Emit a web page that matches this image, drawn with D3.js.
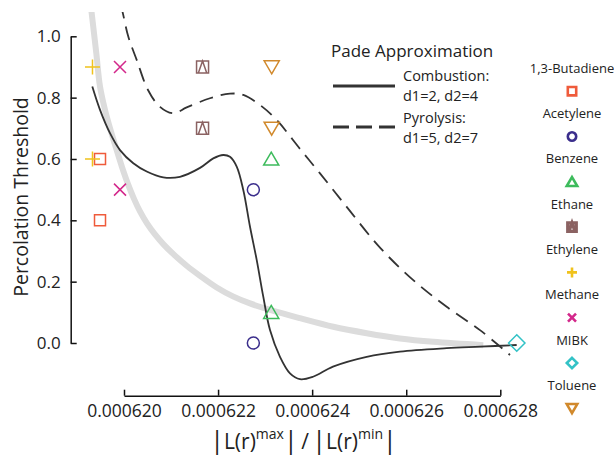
<!DOCTYPE html>
<html lang="en">
<head>
<meta charset="utf-8">
<title>Percolation threshold</title>
<script src="https://cdn.jsdelivr.net/npm/d3@7"></script>
<style>
  body { margin: 0; background: #fff; }
  svg { font-family: "Open Sans", sans-serif; }
  .tick text { fill: #222; }
</style>
</head>
<body>
<div id="chart"></div>
<script>

// species measured
var species = ["1,3-Butadiene", "Acetylene", "Benzene", "Ethane", "Ethylene", "Methane", "MIBK", "Toluene"];
var speciesRatio = [6.1949e-4, 6.2275e-4, 6.2313e-4, 6.2167e-4, 6.1933e-4, 6.19915e-4, 6.2835e-4, 6.2314e-4];
var speciesThreshold = [[0.6, 0.4], [0.5, 0.0], [0.6, 0.1], [0.9, 0.7], [0.9, 0.6], [0.9, 0.5], [0.0], [0.9, 0.7]];

// pade curves
var combRatio = [6.19326e-4, 6.1949e-4, 6.19702e-4, 6.19915e-4, 6.20198e-4, 6.20483e-4, 6.20835e-4, 6.2119e-4,
  6.21616e-4, 6.21898e-4, 6.22111e-4, 6.22253e-4, 6.22396e-4, 6.22536e-4, 6.22679e-4, 6.22821e-4, 6.22961e-4,
  6.23104e-4, 6.23316e-4, 6.23529e-4, 6.23741e-4, 6.24018e-4, 6.24443e-4, 6.2516e-4, 6.25867e-4, 6.2686e-4,
  6.27568e-4, 6.28348e-4];
var combThreshold = [0.836, 0.760, 0.684, 0.629, 0.586, 0.559, 0.540, 0.542, 0.571, 0.602, 0.613, 0.607, 0.575,
  0.499, 0.379, 0.271, 0.151, 0.042, -0.045, -0.099, -0.118, -0.110, -0.077, -0.045, -0.028, -0.017, -0.012, -0.0065];

var pyroRatio = [6.19936e-4, 6.19985e-4, 6.20091e-4, 6.2027e-4, 6.2051e-4, 6.20765e-4, 6.21048e-4, 6.21333e-4,
  6.21828e-4, 6.22253e-4, 6.22536e-4, 6.22891e-4, 6.23246e-4, 6.23741e-4, 6.24167e-4, 6.24734e-4, 6.25442e-4,
  6.2615e-4, 6.2686e-4, 6.27568e-4, 6.28206e-4];
var pyroThreshold = [1.102, 1.069, 0.999, 0.923, 0.825, 0.770, 0.749, 0.768, 0.798, 0.813, 0.809, 0.776, 0.727,
  0.633, 0.553, 0.444, 0.311, 0.205, 0.118, 0.042, -0.039];

// gray trend line
var trendRatio = [6.19288e-4, 6.1933e-4, 6.19411e-4, 6.1949e-4, 6.19596e-4, 6.19713e-4, 6.1983e-4, 6.19957e-4,
  6.20085e-4, 6.20213e-4, 6.2034e-4, 6.20489e-4, 6.20659e-4, 6.2085e-4, 6.21084e-4, 6.21339e-4, 6.21616e-4,
  6.21971e-4, 6.22317e-4, 6.22679e-4, 6.23104e-4, 6.23741e-4, 6.2445e-4, 6.2516e-4, 6.25867e-4, 6.26575e-4,
  6.27638e-4];
var trendThreshold = [1.108, 1.053, 0.945, 0.836, 0.760, 0.695, 0.636, 0.574, 0.518, 0.470, 0.429, 0.390, 0.354,
  0.320, 0.285, 0.251, 0.219, 0.181, 0.152, 0.129, 0.108, 0.081, 0.053, 0.032, 0.015, 0.004, -0.007];

var xTicks = [0.000620, 0.000622, 0.000624, 0.000626, 0.000628];
var yTicks = [0.0, 0.2, 0.4, 0.6, 0.8, 1.0];

// marker look per species
var markerStyle = {
  "1,3-Butadiene": {shape: "square", color: "#ef5b3b"},
  "Acetylene": {shape: "circle", color: "#3b2e8c"},
  "Benzene": {shape: "triUp", color: "#3dbb5c"},
  "Ethane": {shape: "sqTri", color: "#8b6262"},
  "Ethylene": {shape: "plus", color: "#f0c21c"},
  "Methane": {shape: "times", color: "#d3288b"},
  "MIBK": {shape: "diamond", color: "#33c2c6"},
  "Toluene": {shape: "triDown", color: "#d1892c"}
};

var width = 614, height = 456;

var svg = d3.select("#chart").append("svg")
  .attr("width", width)
  .attr("height", height);

var x = d3.scaleLinear().domain([0.000620, 0.000628]).range([124, 500.3]);
var y = d3.scaleLinear().domain([0, 1]).range([343, 36.3]);

// marker path, r = half size
function marker(kind, r) {
  var p = d3.path();
  if (kind == "square") {
    p.rect(-r, -r, 2 * r, 2 * r);
  } else if (kind == "circle") {
    p.moveTo(r, 0);
    p.arc(0, 0, r, 0, 2 * Math.PI);
  } else if (kind == "triUp") {
    p.moveTo(0, -r * 0.95); p.lineTo(r * 1.05, r * 0.85); p.lineTo(-r * 1.05, r * 0.85); p.closePath();
  } else if (kind == "triDown") {
    p.moveTo(0, r * 0.95); p.lineTo(r * 1.05, -r * 0.85); p.lineTo(-r * 1.05, -r * 0.85); p.closePath();
  } else if (kind == "plus") {
    p.moveTo(-r, 0); p.lineTo(r, 0); p.moveTo(0, -r); p.lineTo(0, r);
  } else if (kind == "times") {
    p.moveTo(-r, -r); p.lineTo(r, r); p.moveTo(r, -r); p.lineTo(-r, r);
  } else if (kind == "diamond") {
    p.moveTo(0, -r); p.lineTo(r, 0); p.lineTo(0, r); p.lineTo(-r, 0); p.closePath();
  } else if (kind == "sqTri") {
    p.rect(-r, -r, 2 * r, 2 * r);
    p.moveTo(0, -r); p.lineTo(r * 0.7, r); p.lineTo(-r * 0.7, r); p.closePath();
  }
  return p.toString();
}

var plotSize = {square: 5.5, circle: 6, triUp: 7.2, triDown: 7.2, plus: 7.5, times: 6, diamond: 8.2, sqTri: 6};
var legendSize = {square: 4.2, circle: 4.2, triUp: 5, triDown: 5, plus: 5, times: 4, diamond: 5.2, sqTri: 4.3};

// clip for the curves
svg.append("clipPath").attr("id", "plotclip")
  .append("rect").attr("x", 70).attr("y", 12).attr("width", 470).attr("height", 390);

var plot = svg.append("g").attr("clip-path", "url(#plotclip)");

function curve(xs, ys) {
  return d3.line()
    .x(function(d) { return x(d); })
    .y(function(d, i) { return y(ys[i]); })
    .curve(d3.curveCatmullRom.alpha(0.5))(xs);
}

plot.append("path")
  .attr("d", curve(trendRatio, trendThreshold))
  .attr("fill", "none")
  .attr("stroke", "#dcdcdc")
  .attr("stroke-width", 6);

plot.append("path")
  .attr("d", curve(combRatio, combThreshold))
  .attr("fill", "none")
  .attr("stroke", "#333")
  .attr("stroke-width", 1.8);

plot.append("path")
  .attr("d", curve(pyroRatio, pyroThreshold))
  .attr("fill", "none")
  .attr("stroke", "#333")
  .attr("stroke-width", 1.8)
  .attr("stroke-dasharray", "14,8");

// data points
var points = [];
species.forEach(function(s, i) {
  speciesThreshold[i].forEach(function(t) {
    points.push({name: s, ratio: speciesRatio[i], threshold: t});
  });
});

svg.append("g").selectAll("path")
  .data(points)
  .enter()
  .append("path")
  .attr("transform", function(d) { return "translate(" + x(d.ratio) + "," + y(d.threshold) + ")"; })
  .attr("d", function(d) { var k = markerStyle[d.name].shape; return marker(k, plotSize[k]); })
  .attr("fill", "none")
  .attr("stroke", function(d) { return markerStyle[d.name].color; })
  .attr("stroke-width", 1.5);

// axes, ticks pointing inward
var xAxis = d3.axisBottom(x)
  .tickValues(xTicks)
  .tickFormat(d3.format(".6f"))
  .tickSizeInner(-6)
  .tickSizeOuter(0)
  .tickPadding(9);

var yAxis = d3.axisLeft(y)
  .tickValues(yTicks)
  .tickFormat(d3.format(".1f"))
  .tickSizeInner(-6)
  .tickSizeOuter(0)
  .tickPadding(10);

var gx = svg.append("g")
  .attr("transform", "translate(0,395.7)")
  .call(xAxis);

var gy = svg.append("g")
  .attr("transform", "translate(70.7,0)")
  .call(yAxis);

[gx, gy].forEach(function(g) {
  g.selectAll("text").style("font-size", "17px").style("font-family", "Open Sans");
  g.selectAll("line, path").attr("stroke", "#111").attr("stroke-width", 1.5);
});
gx.selectAll("text").style("font-size", "17.5px");

// axis titles
svg.append("text")
  .attr("transform", "translate(28,197) rotate(-90)")
  .attr("text-anchor", "middle")
  .style("font-size", "19.5px")
  .attr("fill", "#222")
  .text("Percolation Threshold");

var xl = svg.append("text")
  .attr("x", 303.5)
  .attr("y", 449)
  .attr("text-anchor", "middle")
  .attr("fill", "#222")
  .style("font-size", "21px");
function bar(dy) {
  var t = xl.append("tspan").style("font-size", "25px").text("|");
  if (dy) t.attr("dy", dy);
}
bar();
xl.append("tspan").text("L(r)");
xl.append("tspan").attr("dy", -10).style("font-size", "14px").text("max");
bar(10);
xl.append("tspan").text("\u2009/\u2009");
bar();
xl.append("tspan").text("L(r)");
xl.append("tspan").attr("dy", -10).style("font-size", "14px").text("min");
bar(10);

// pade legend
var lg = svg.append("g").attr("fill", "#222");
lg.append("text").attr("x", 331).attr("y", 57).style("font-size", "17px").text("Pade Approximation");

var padeLegend = [
  {label: ["Combustion:", "d1=2, d2=4"], dash: null, ly: 86, ty: 81},
  {label: ["Pyrolysis:", "d1=5, d2=7"], dash: "16,7", ly: 127, ty: 123}
];
padeLegend.forEach(function(d) {
  lg.append("line")
    .attr("x1", 333).attr("x2", 395)
    .attr("y1", d.ly).attr("y2", d.ly)
    .attr("stroke", "#333")
    .attr("stroke-width", 3)
    .attr("stroke-dasharray", d.dash);
  d.label.forEach(function(t, j) {
    lg.append("text")
      .attr("x", 403)
      .attr("y", d.ty + j * 19.5)
      .style("font-size", "14.5px")
      .text(t);
  });
});

// species legend on the right
var sl = svg.append("g");
species.forEach(function(s, i) {
  var by = 72.7 + i * 45.3;
  var st = markerStyle[s];
  sl.append("text")
    .attr("x", 572)
    .attr("y", by)
    .attr("text-anchor", "middle")
    .attr("fill", "#222")
    .style("font-size", "13px")
    .text(s);
  sl.append("path")
    .attr("transform", "translate(572," + (by + 18.5) + ")")
    .attr("d", marker(st.shape, legendSize[st.shape]))
    .attr("fill", "none")
    .attr("stroke", st.color)
    .attr("stroke-width", st.shape == "sqTri" ? 3.2 : 2.6);
});

</script>
</body>
</html>
